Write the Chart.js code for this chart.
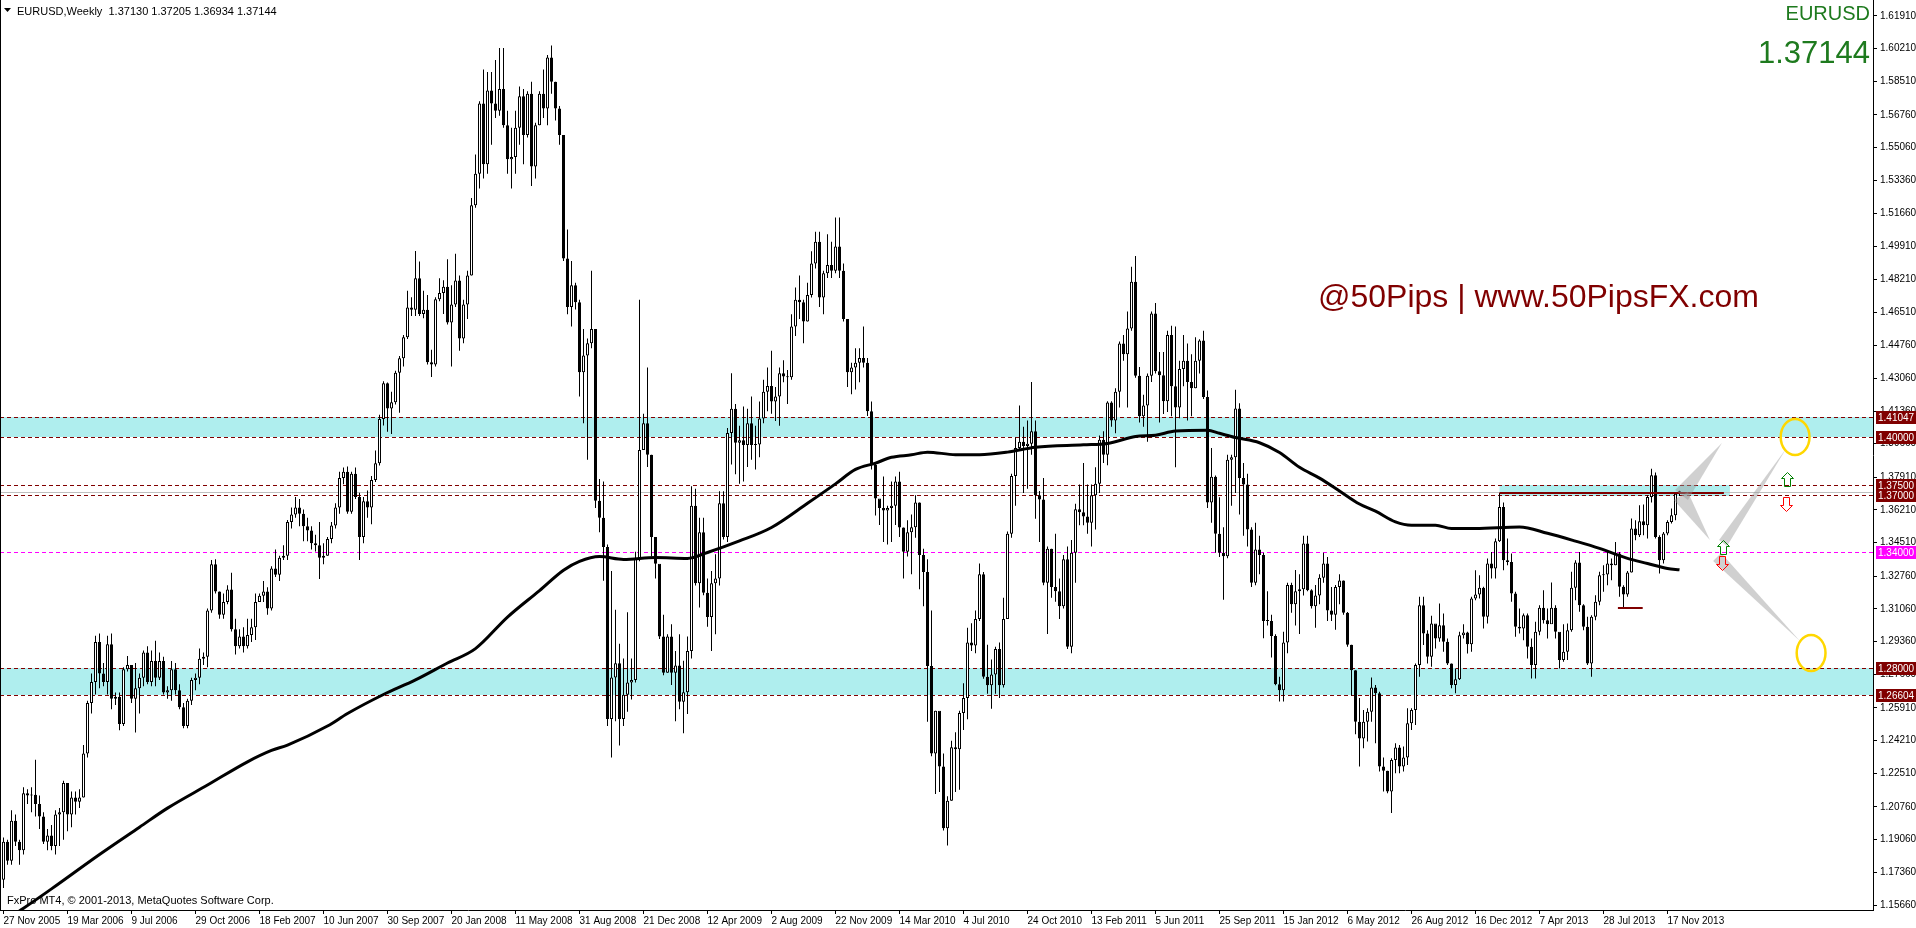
<!DOCTYPE html>
<html>
<head>
<meta charset="utf-8">
<title>EURUSD Weekly</title>
<script src="https://cdn.jsdelivr.net/npm/chart.js"></script>
<style>
  html, body { margin: 0; padding: 0; background: #fff; }
  #wrap { position: relative; width: 1916px; height: 928px; overflow: hidden; }
</style>
</head>
<body>
<div id="wrap"><canvas id="chart" width="1916" height="928"></canvas></div>
<script>
// Weekly EURUSD candles (bar 0 = week of 27 Nov 2005)
const barOpen = [
  1.1698,1.1895,1.1796,1.2004,1.1895,1.1851,1.2147,1.2136,1.2140,1.2092,
  1.2026,1.1895,1.1928,1.1873,1.2037,1.2048,1.2201,1.2037,1.2125,1.2103,
  1.2125,1.2354,1.2617,1.2726,1.2934,1.2770,1.2726,1.2923,1.2639,1.2650,
  1.2508,1.2792,1.2814,1.2639,1.2693,1.2748,1.2880,1.2726,1.2836,1.2748,
  1.2836,1.2672,1.2683,1.2792,1.2683,1.2595,1.2497,1.2628,1.2737,1.2748,
  1.2847,1.2858,1.3098,1.3339,1.3197,1.3076,1.3142,1.3208,1.3000,1.2912,
  1.2963,1.2912,1.2971,1.3011,1.3142,1.3175,1.3197,1.3109,1.3317,1.3284,
  1.3372,1.3383,1.3558,1.3597,1.3634,1.3602,1.3536,1.3514,1.3448,1.3437,
  1.3372,1.3383,1.3470,1.3540,1.3634,1.3788,1.3820,1.3612,1.3809,1.3689,
  1.3481,1.3667,1.3634,1.3777,1.3864,1.4094,1.4280,1.4149,1.4181,1.4335,
  1.4411,1.4520,1.4674,1.4663,1.4827,1.4641,1.4663,1.4389,1.4378,1.4717,
  1.4750,1.4783,1.4597,1.4690,1.4815,1.4513,1.4690,1.4841,1.5206,1.5370,
  1.5736,1.5420,1.5804,1.5736,1.5698,1.5811,1.5622,1.5446,1.5458,1.5609,
  1.5773,1.5572,1.5786,1.5408,1.5622,1.5786,1.5710,1.5975,1.5849,1.5710,
  1.5572,1.4929,1.4677,1.4790,1.4702,1.4337,1.4425,1.4488,1.4563,1.3669,
  1.3580,1.3429,1.2534,1.2749,1.2824,1.2534,1.2660,1.2723,1.2736,1.3366,
  1.3933,1.4072,1.3908,1.3480,1.3341,1.2963,1.2774,1.2963,1.2774,1.2812,
  1.2623,1.2673,1.2887,1.3643,1.3240,1.3505,1.3190,1.3064,1.3240,1.3265,
  1.3656,1.3480,1.4022,1.4148,1.3971,1.3984,1.3959,1.4072,1.3959,1.3962,
  1.4097,1.4236,1.4266,1.4185,1.4211,1.4332,1.4316,1.4311,1.4576,1.4715,
  1.4702,1.4601,1.4740,1.4904,1.5017,1.4727,1.4853,1.4896,1.4866,1.4992,
  1.4866,1.4614,1.4337,1.4362,1.4387,1.4412,1.4387,1.4135,1.3858,1.3681,
  1.3631,1.3618,1.3631,1.3643,1.3769,1.3530,1.3404,1.3505,1.3531,1.3660,
  1.3387,1.3298,1.2809,1.2354,1.2576,1.2287,1.1965,1.2109,1.2387,1.2376,
  1.2565,1.2643,1.2932,1.2916,1.3054,1.3287,1.2754,1.2709,1.2765,1.2898,
  1.2709,1.3054,1.3498,1.3798,1.3943,1.3976,1.3954,1.3965,1.4031,1.3698,
  1.3676,1.3243,1.3420,1.3220,1.3198,1.3120,1.3365,1.2909,1.3398,1.3625,
  1.3609,1.3587,1.3554,1.3698,1.3758,1.3987,1.3909,1.4180,1.4087,1.4236,
  1.4487,1.4431,1.4565,1.4809,1.4320,1.4109,1.4165,1.4320,1.4643,1.4343,
  1.4322,1.4187,1.4531,1.4265,1.4154,1.4354,1.4398,1.4287,1.4254,1.4398,
  1.4503,1.4209,1.3660,1.3794,1.3498,1.3398,1.3380,1.3883,1.3896,1.4149,
  1.3787,1.3754,1.3520,1.3243,1.3416,1.3387,1.3043,1.3043,1.2965,1.2714,
  1.2683,1.2932,1.3231,1.3131,1.3198,1.3209,1.3447,1.3204,1.3120,1.3176,
  1.3269,1.3343,1.3098,1.3076,1.3220,1.3254,1.3087,1.2920,1.2787,1.2520,
  1.2432,1.2520,1.2572,1.2697,1.2667,1.2286,1.2264,1.2157,1.2321,1.2385,
  1.2286,1.2333,1.2512,1.2581,1.2815,1.3126,1.2979,1.2858,1.3031,1.2953,
  1.3022,1.2936,1.2823,1.2711,1.2740,1.2970,1.2984,1.2922,1.3161,1.3182,
  1.3216,1.3066,1.3343,1.3317,1.3459,1.3637,1.3360,1.3351,1.3187,1.3014,
  1.3005,1.3074,1.2910,1.2815,1.2988,1.3112,1.3048,1.3026,1.3112,1.2988,
  1.2841,1.2884,1.2996,1.3216,1.3348,1.3126,1.3014,1.2823,1.3066,1.3144,
  1.3282,1.3286,1.3343,1.3334,1.3395,1.3222,1.3182,1.3296,1.3525,1.3490,
  1.3563,1.3542,1.3689,1.3802,1.3481,1.3360,1.3499,1.3559,1.3594,1.37130
];
const barHigh = [
  1.1917,1.1906,1.2059,1.2037,1.1906,1.2179,1.2168,1.2179,1.2322,1.2136,
  1.2048,1.1961,1.1982,1.2059,1.2070,1.2212,1.2201,1.2157,1.2157,1.2168,
  1.2398,1.2628,1.2770,1.2967,1.2978,1.2825,1.2967,1.2978,1.2672,1.2672,
  1.2803,1.2862,1.2814,1.2825,1.2770,1.2890,1.2912,1.2890,1.2941,1.2880,
  1.2858,1.2704,1.2836,1.2825,1.2715,1.2617,1.2639,1.2748,1.2770,1.2901,
  1.2880,1.3109,1.3361,1.3365,1.3197,1.3186,1.3230,1.3295,1.3055,1.3000,
  1.3011,1.3055,1.3055,1.3186,1.3186,1.3251,1.3219,1.3328,1.3416,1.3383,
  1.3437,1.3569,1.3634,1.3689,1.3678,1.3623,1.3580,1.3536,1.3492,1.3558,
  1.3448,1.3481,1.3558,1.3656,1.3820,1.3842,1.3847,1.3820,1.3842,1.3711,
  1.3689,1.3722,1.3798,1.3930,1.4116,1.4291,1.4284,1.4236,1.4345,1.4422,
  1.4531,1.4761,1.4728,1.4969,1.4914,1.4761,1.4739,1.4455,1.4728,1.4827,
  1.4816,1.4925,1.4790,1.4954,1.4841,1.4715,1.4866,1.5244,1.5471,1.5748,
  1.5912,1.5899,1.5899,1.5962,1.6025,1.6025,1.5698,1.5609,1.5698,1.5824,
  1.5811,1.5799,1.5849,1.5635,1.5799,1.5912,1.5988,1.6038,1.5849,1.5723,
  1.5572,1.5080,1.4916,1.4803,1.4715,1.4563,1.4513,1.4866,1.4563,1.3782,
  1.3769,1.3442,1.3303,1.3102,1.2925,1.2849,1.3089,1.2849,1.3404,1.4715,
  1.4122,1.4362,1.3908,1.3480,1.3328,1.3076,1.2975,1.3026,1.2887,1.2975,
  1.2837,1.2963,1.3744,1.3732,1.3580,1.3580,1.3265,1.3303,1.3391,1.3719,
  1.3719,1.4047,1.4332,1.4173,1.4059,1.4160,1.4148,1.4211,1.4059,1.4185,
  1.4299,1.4362,1.4450,1.4261,1.4362,1.4400,1.4349,1.4639,1.4778,1.4841,
  1.4715,1.4803,1.4967,1.5068,1.5068,1.4866,1.5055,1.5017,1.5143,1.5143,
  1.4904,1.4614,1.4387,1.4463,1.4463,1.4576,1.4412,1.4185,1.3870,1.3669,
  1.3795,1.3643,1.3769,1.3795,1.3820,1.3530,1.3568,1.3598,1.3698,1.3660,
  1.3420,1.3365,1.3098,1.2576,1.2565,1.2354,1.2132,1.2420,1.2465,1.2576,
  1.2720,1.3009,1.3032,1.3098,1.3343,1.3298,1.2920,1.2843,1.2909,1.2932,
  1.3165,1.3509,1.3809,1.3998,1.4165,1.4054,1.4087,1.4287,1.4087,1.3720,
  1.3787,1.3431,1.3420,1.3498,1.3265,1.3387,1.3431,1.3465,1.3654,1.3754,
  1.3865,1.3754,1.3754,1.3843,1.4009,1.4031,1.4187,1.4187,1.4254,1.4498,
  1.4531,1.4654,1.4887,1.4942,1.4365,1.4220,1.4331,1.4654,1.4698,1.4443,
  1.4443,1.4554,1.4580,1.4576,1.4398,1.4531,1.4487,1.4431,1.4520,1.4509,
  1.4554,1.4243,1.3943,1.3800,1.3687,1.3531,1.3909,1.3909,1.4247,1.4176,
  1.3865,1.3809,1.3531,1.3554,1.3487,1.3398,1.3198,1.3076,1.2975,1.2754,
  1.2987,1.3243,1.3243,1.3309,1.3287,1.3487,1.3487,1.3209,1.3231,1.3287,
  1.3398,1.3376,1.3220,1.3231,1.3287,1.3254,1.3090,1.2920,1.2787,1.2643,
  1.2581,1.2589,1.2749,1.2711,1.2676,1.2333,1.2264,1.2330,1.2408,1.2399,
  1.2390,1.2589,1.2589,1.2823,1.3170,1.3170,1.2996,1.3071,1.3022,1.3135,
  1.3083,1.2953,1.2823,1.2797,1.2988,1.3026,1.2988,1.3170,1.3308,1.3282,
  1.3222,1.3369,1.3403,1.3473,1.3710,1.3660,1.3473,1.3395,1.3196,1.3109,
  1.3083,1.3083,1.2953,1.3040,1.3126,1.3204,1.3109,1.3244,1.3126,1.2974,
  1.3026,1.3031,1.3300,1.3360,1.3403,1.3130,1.3066,1.3074,1.3178,1.3300,
  1.3334,1.3403,1.3369,1.3455,1.3403,1.3230,1.3303,1.3577,1.3568,1.3646,
  1.3649,1.3698,1.3836,1.3816,1.3490,1.3507,1.3568,1.3629,1.3715,1.37205
];
const barLow = [
  1.1654,1.1775,1.1775,1.1873,1.1775,1.1829,1.2092,1.2048,1.2026,1.1961,
  1.1884,1.1851,1.1851,1.1829,1.1873,1.1906,1.1950,1.1971,1.2037,1.2070,
  1.2125,1.2333,1.2562,1.2661,1.2693,1.2704,1.2661,1.2584,1.2606,1.2475,
  1.2497,1.2781,1.2617,1.2464,1.2562,1.2704,1.2715,1.2704,1.2704,1.2737,
  1.2661,1.2639,1.2628,1.2661,1.2584,1.2486,1.2486,1.2606,1.2683,1.2715,
  1.2814,1.2803,1.3087,1.3186,1.3055,1.3055,1.3131,1.2989,1.2869,1.2901,
  1.2880,1.2901,1.2934,1.2945,1.3142,1.3142,1.3076,1.3098,1.3273,1.3251,
  1.3361,1.3361,1.3525,1.3580,1.3536,1.3459,1.3459,1.3416,1.3405,1.3262,
  1.3339,1.3383,1.3448,1.3525,1.3602,1.3755,1.3602,1.3602,1.3678,1.3361,
  1.3448,1.3580,1.3547,1.3766,1.3853,1.4061,1.4028,1.4017,1.4170,1.4127,
  1.4367,1.4510,1.4630,1.4630,1.4630,1.4619,1.4378,1.4313,1.4367,1.4707,
  1.4641,1.4586,1.4367,1.4677,1.4450,1.4488,1.4614,1.4841,1.5194,1.5294,
  1.5345,1.5370,1.5521,1.5660,1.5672,1.5609,1.5370,1.5294,1.5370,1.5521,
  1.5420,1.5559,1.5307,1.5345,1.5622,1.5660,1.5622,1.5786,1.5647,1.5521,
  1.4916,1.4639,1.4576,1.4664,1.4211,1.4072,1.3883,1.4463,1.3631,1.3505,
  1.3253,1.2497,1.2333,1.2522,1.2396,1.2497,1.2572,1.2635,1.2723,1.3354,
  1.3933,1.3845,1.3379,1.3265,1.2950,1.2761,1.2774,1.2711,1.2522,1.2585,
  1.2459,1.2560,1.2849,1.3228,1.3114,1.3177,1.3013,1.2887,1.2975,1.3228,
  1.3467,1.3454,1.3858,1.3807,1.3757,1.3769,1.3845,1.3883,1.3832,1.3896,
  1.4072,1.4135,1.4122,1.4084,1.4059,1.4286,1.4173,1.4299,1.4526,1.4614,
  1.4488,1.4601,1.4727,1.4878,1.4677,1.4639,1.4828,1.4828,1.4853,1.4828,
  1.4601,1.4261,1.4223,1.4248,1.4286,1.4362,1.4110,1.3832,1.3593,1.3543,
  1.3454,1.3442,1.3454,1.3543,1.3480,1.3265,1.3379,1.3287,1.3476,1.3209,
  1.3120,1.2520,1.2340,1.2143,1.2154,1.1954,1.1876,1.2109,1.2154,1.2165,
  1.2476,1.2532,1.2887,1.2876,1.3043,1.2743,1.2665,1.2587,1.2665,1.2643,
  1.2698,1.3054,1.3476,1.3643,1.3931,1.3709,1.3731,1.3909,1.3576,1.3454,
  1.3230,1.2976,1.3165,1.3143,1.3054,1.3109,1.2898,1.2876,1.3243,1.3542,
  1.3542,1.3498,1.3431,1.3520,1.3709,1.3865,1.3854,1.4054,1.4020,1.4154,
  1.4398,1.4154,1.4554,1.4309,1.4076,1.4054,1.3976,1.4287,1.4331,1.4076,
  1.4120,1.4131,1.4109,1.3843,1.4098,1.4265,1.4087,1.4109,1.4254,1.4331,
  1.4198,1.3631,1.3554,1.3398,1.3376,1.3154,1.3370,1.3643,1.3709,1.3598,
  1.3487,1.3431,1.3220,1.3230,1.3287,1.2954,1.3020,1.2854,1.2709,1.2625,
  1.2625,1.2876,1.3087,1.3020,1.2976,1.3176,1.3198,1.3109,1.3009,1.3131,
  1.3243,1.3043,1.3043,1.2998,1.3131,1.3076,1.2909,1.2654,1.2454,1.2287,
  1.2382,1.2416,1.2520,1.2408,1.2260,1.2157,1.2148,1.2044,1.2252,1.2252,
  1.2260,1.2295,1.2477,1.2503,1.2754,1.2918,1.2823,1.2806,1.2901,1.2936,
  1.2884,1.2815,1.2693,1.2667,1.2737,1.2953,1.2875,1.2884,1.3152,1.3161,
  1.3005,1.3031,1.3265,1.3265,1.3455,1.3308,1.3334,1.3144,1.2962,1.2979,
  1.2944,1.2849,1.2745,1.2745,1.2970,1.3031,1.2953,1.3048,1.2953,1.2797,
  1.2832,1.2841,1.2988,1.3152,1.3092,1.2996,1.2815,1.2754,1.3048,1.3126,
  1.3196,1.3230,1.3256,1.3334,1.3170,1.3109,1.3170,1.3296,1.3464,1.3481,
  1.3490,1.3473,1.3660,1.3473,1.3291,1.3343,1.3490,1.3551,1.3568,1.36934
];
const barClose = [
  1.1895,1.1796,1.2004,1.1895,1.1851,1.2147,1.2136,1.2140,1.2092,1.2026,
  1.1895,1.1928,1.1873,1.2037,1.2048,1.2201,1.2037,1.2125,1.2103,1.2125,
  1.2354,1.2617,1.2726,1.2934,1.2770,1.2726,1.2923,1.2639,1.2650,1.2508,
  1.2792,1.2814,1.2639,1.2693,1.2748,1.2880,1.2726,1.2836,1.2748,1.2836,
  1.2672,1.2683,1.2792,1.2683,1.2595,1.2497,1.2628,1.2737,1.2748,1.2847,
  1.2858,1.3098,1.3339,1.3197,1.3076,1.3142,1.3208,1.3000,1.2912,1.2963,
  1.2912,1.2971,1.3011,1.3142,1.3175,1.3197,1.3109,1.3317,1.3284,1.3372,
  1.3383,1.3558,1.3597,1.3634,1.3602,1.3536,1.3514,1.3448,1.3437,1.3372,
  1.3383,1.3470,1.3540,1.3634,1.3788,1.3820,1.3612,1.3809,1.3689,1.3481,
  1.3667,1.3634,1.3777,1.3864,1.4094,1.4280,1.4149,1.4181,1.4335,1.4411,
  1.4520,1.4674,1.4663,1.4827,1.4641,1.4663,1.4389,1.4378,1.4717,1.4750,
  1.4783,1.4597,1.4690,1.4815,1.4513,1.4690,1.4841,1.5206,1.5370,1.5736,
  1.5420,1.5804,1.5736,1.5698,1.5811,1.5622,1.5446,1.5458,1.5609,1.5773,
  1.5572,1.5786,1.5408,1.5622,1.5786,1.5710,1.5975,1.5849,1.5710,1.5572,
  1.4929,1.4677,1.4790,1.4702,1.4337,1.4425,1.4488,1.4563,1.3669,1.3580,
  1.3429,1.2534,1.2749,1.2824,1.2534,1.2660,1.2723,1.2736,1.3366,1.3933,
  1.4072,1.3908,1.3480,1.3341,1.2963,1.2774,1.2963,1.2774,1.2812,1.2623,
  1.2673,1.2887,1.3643,1.3240,1.3505,1.3190,1.3064,1.3240,1.3265,1.3656,
  1.3480,1.4022,1.4148,1.3971,1.3984,1.3959,1.4072,1.3959,1.3962,1.4097,
  1.4236,1.4266,1.4185,1.4211,1.4332,1.4316,1.4311,1.4576,1.4715,1.4702,
  1.4601,1.4740,1.4904,1.5017,1.4727,1.4853,1.4896,1.4866,1.4992,1.4866,
  1.4614,1.4337,1.4362,1.4387,1.4412,1.4387,1.4135,1.3858,1.3681,1.3631,
  1.3618,1.3631,1.3643,1.3769,1.3530,1.3404,1.3505,1.3531,1.3660,1.3387,
  1.3298,1.2809,1.2354,1.2576,1.2287,1.1965,1.2109,1.2387,1.2376,1.2565,
  1.2643,1.2932,1.2916,1.3054,1.3287,1.2754,1.2709,1.2765,1.2898,1.2709,
  1.3054,1.3498,1.3798,1.3943,1.3976,1.3954,1.3965,1.4031,1.3698,1.3676,
  1.3243,1.3420,1.3220,1.3198,1.3120,1.3365,1.2909,1.3398,1.3625,1.3609,
  1.3587,1.3554,1.3698,1.3758,1.3987,1.3909,1.4180,1.4087,1.4236,1.4487,
  1.4431,1.4565,1.4809,1.4320,1.4109,1.4165,1.4320,1.4643,1.4343,1.4322,
  1.4187,1.4531,1.4265,1.4154,1.4354,1.4398,1.4287,1.4254,1.4398,1.4503,
  1.4209,1.3660,1.3794,1.3498,1.3398,1.3380,1.3883,1.3896,1.4149,1.3787,
  1.3754,1.3520,1.3243,1.3416,1.3387,1.3043,1.3043,1.2965,1.2714,1.2683,
  1.2932,1.3231,1.3131,1.3198,1.3209,1.3447,1.3204,1.3120,1.3176,1.3269,
  1.3343,1.3098,1.3076,1.3220,1.3254,1.3087,1.2920,1.2787,1.2520,1.2432,
  1.2520,1.2572,1.2697,1.2667,1.2286,1.2264,1.2157,1.2321,1.2385,1.2286,
  1.2333,1.2512,1.2581,1.2815,1.3126,1.2979,1.2858,1.3031,1.2953,1.3022,
  1.2936,1.2823,1.2711,1.2740,1.2970,1.2984,1.2922,1.3161,1.3182,1.3216,
  1.3066,1.3343,1.3317,1.3459,1.3637,1.3360,1.3351,1.3187,1.3014,1.3005,
  1.3074,1.2910,1.2815,1.2988,1.3112,1.3048,1.3026,1.3112,1.2988,1.2841,
  1.2884,1.2996,1.3216,1.3348,1.3126,1.3014,1.2823,1.3066,1.3144,1.3282,
  1.3286,1.3343,1.3334,1.3395,1.3222,1.3182,1.3296,1.3525,1.3490,1.3563,
  1.3542,1.3689,1.3802,1.3481,1.3360,1.3499,1.3559,1.3594,1.3706,1.37144
];

// moving average (thick black line), read at these bars
const maBars = [0,5,12,24,34,41,51,61,67,71,81,86,95,103,111,118,126,134,140,144,
  149,155,163,171,176,184,192,201,208,213,218,222,227,231,238,244,251,258,270,276,
  283,288,293,301,304,308,314,319,324,329,334,339,343,348,352,358,362,368,379,386,
  393,399,406,411,416,419];
const maValues = [1.1480,1.1549,1.1650,1.1829,1.1971,1.2070,1.2190,1.2311,1.2370,1.2398,
  1.2497,1.2562,1.2661,1.2737,1.2825,1.2900,1.3064,1.3202,1.3308,1.3354,
  1.3379,1.3364,1.3374,1.3369,1.3400,1.3460,1.3530,1.3656,1.3757,1.3832,
  1.3865,1.3895,1.3908,1.3922,1.3909,1.3909,1.3922,1.3947,1.3960,1.3967,
  1.4003,1.4010,1.4032,1.4036,1.4020,1.3998,1.3971,1.3920,1.3843,1.3787,
  1.3720,1.3652,1.3615,1.3559,1.3542,1.3542,1.3525,1.3525,1.3533,1.3500,
  1.3459,1.3421,1.3369,1.3343,1.3317,1.3310];

// axes
const xTickBars = [0,16,32,48,64,80,96,112,128,144,160,176,192,208,224,240,256,272,288,304,320,336,352,368,384,400,416];
const xTickLabels = ["27 Nov 2005","19 Mar 2006","9 Jul 2006","29 Oct 2006","18 Feb 2007","10 Jun 2007",
  "30 Sep 2007","20 Jan 2008","11 May 2008","31 Aug 2008","21 Dec 2008","12 Apr 2009","2 Aug 2009",
  "22 Nov 2009","14 Mar 2010","4 Jul 2010","24 Oct 2010","13 Feb 2011","5 Jun 2011","25 Sep 2011",
  "15 Jan 2012","6 May 2012","26 Aug 2012","16 Dec 2012","7 Apr 2013","28 Jul 2013","17 Nov 2013"];
const yTickValues = [1.61910,1.60210,1.58510,1.56760,1.55060,1.53360,1.51660,1.49910,1.48210,1.46510,
  1.44760,1.43060,1.41360,1.39660,1.37910,1.36210,1.34510,1.32760,1.31060,1.29360,
  1.27660,1.25910,1.24210,1.22510,1.20760,1.19060,1.17360,1.15660];

// drawn objects
const zoneLow = [1.40000, 1.26604];
const zoneHigh = [1.41047, 1.28000];
const levelValues = [1.41047, 1.40000, 1.37500, 1.37000, 1.34000, 1.28000, 1.26604];
const levelColors = ['#800000','#800000','#800000','#800000','#ff00ff','#800000','#800000'];
const bidPrice = 1.37144;
const boxBars = [374, 431.6];
const boxPrices = [1.3695, 1.3750];
const trendBars = [[374, 430.1], [403.6, 409.8]];
const trendPrices = [1.3710, 1.3109];
const wedgeBars = [[417.9, 421.1, 429.6], [417.6, 421.1, 426.6], [428.9, 430.9, 445.6], [429.4, 427.4, 449.1]];
const wedgePrices = [[1.3725, 1.3673, 1.3970], [1.3673, 1.3715, 1.3465], [1.3465, 1.3434, 1.3938], [1.3397, 1.3356, 1.2939]];
const ellipseBars = [447.9, 451.9];
const ellipsePrices = [1.4001, 1.2877];
const ellipseRadiusBars = 3.6;
const ellipseRadiusPrice = 0.0094;
const arrowBars = [445.9, 445.6, 429.9, 429.6];
const arrowPrices = [1.3782, 1.3652, 1.3428, 1.3345];
const arrowUp = [true, false, true, false];

const FONT = "'Liberation Sans', Arial, sans-serif";

function drawArrow(ctx, cx, cy, up, color) {
  const s = up ? 1 : -1;
  ctx.beginPath();
  ctx.moveTo(cx, cy - 7 * s);
  ctx.lineTo(cx + 6, cy - 1 * s);
  ctx.lineTo(cx + 3, cy - 1 * s);
  ctx.lineTo(cx + 3, cy + 7 * s);
  ctx.lineTo(cx - 3, cy + 7 * s);
  ctx.lineTo(cx - 3, cy - 1 * s);
  ctx.lineTo(cx - 6, cy - 1 * s);
  ctx.closePath();
  ctx.strokeStyle = color;
  ctx.lineWidth = 1;
  ctx.stroke();
}

const mt4Objects = {
  id: 'mt4Objects',
  beforeDatasetsDraw(chart) {
    const { ctx, chartArea: a, scales: { x, y } } = chart;
    ctx.save();
    ctx.beginPath();
    ctx.rect(a.left, a.top, a.right - a.left, a.bottom - a.top);
    ctx.clip();
    // support / resistance zones
    ctx.fillStyle = '#afeeee';
    for (let k = 0; k < zoneLow.length; k++) {
      const y1 = Math.round(y.getPixelForValue(zoneHigh[k]));
      const y2 = Math.round(y.getPixelForValue(zoneLow[k]));
      ctx.fillRect(a.left, y1, a.right - a.left, y2 - y1);
    }
    const bx1 = x.getPixelForValue(boxBars[0]), bx2 = x.getPixelForValue(boxBars[1]);
    const by1 = Math.round(y.getPixelForValue(boxPrices[1])), by2 = Math.round(y.getPixelForValue(boxPrices[0]));
    ctx.fillRect(bx1, by1, bx2 - bx1, by2 - by1);
    // bid line
    ctx.strokeStyle = '#c0c0c0';
    ctx.lineWidth = 1;
    const yb = Math.round(y.getPixelForValue(bidPrice)) + 0.5;
    ctx.beginPath(); ctx.moveTo(a.left, yb); ctx.lineTo(a.right, yb); ctx.stroke();
    // dashed horizontal levels
    ctx.setLineDash([4, 3]);
    levelValues.forEach((v, k) => {
      const yy = Math.round(y.getPixelForValue(v)) + 0.5;
      ctx.strokeStyle = levelColors[k];
      ctx.beginPath(); ctx.moveTo(a.left, yy); ctx.lineTo(a.right, yy); ctx.stroke();
    });
    ctx.restore();
  },
  afterDatasetsDraw(chart) {
    const { ctx, chartArea: a, scales: { x, y } } = chart;
    ctx.save();
    ctx.beginPath();
    ctx.rect(a.left, a.top, a.right - a.left, a.bottom - a.top);
    ctx.clip();
    // horizontal trend lines
    ctx.strokeStyle = '#800000';
    ctx.lineWidth = 2;
    trendBars.forEach((tb, k) => {
      const yy = Math.round(y.getPixelForValue(trendPrices[k]));
      ctx.beginPath();
      ctx.moveTo(x.getPixelForValue(tb[0]), yy);
      ctx.lineTo(x.getPixelForValue(tb[1]), yy);
      ctx.stroke();
    });
    // grey wedges
    ctx.fillStyle = 'rgba(150,150,150,0.45)';
    wedgeBars.forEach((wb, k) => {
      ctx.beginPath();
      for (let j = 0; j < 3; j++) {
        const px = x.getPixelForValue(wb[j]), py = y.getPixelForValue(wedgePrices[k][j]);
        if (j === 0) ctx.moveTo(px, py); else ctx.lineTo(px, py);
      }
      ctx.closePath();
      ctx.fill();
    });
    // target ellipses
    ctx.strokeStyle = '#ffd700';
    ctx.lineWidth = 2.5;
    ellipseBars.forEach((eb, k) => {
      const cx = x.getPixelForValue(eb), cy = y.getPixelForValue(ellipsePrices[k]);
      const rx = Math.abs(x.getPixelForValue(eb + ellipseRadiusBars) - cx);
      const ry = Math.abs(y.getPixelForValue(ellipsePrices[k] + ellipseRadiusPrice) - cy);
      ctx.beginPath();
      ctx.ellipse(cx, cy, rx, ry, 0, 0, Math.PI * 2);
      ctx.stroke();
    });
    // up / down arrows
    arrowBars.forEach((ab, k) => {
      const cx = Math.round(x.getPixelForValue(ab)) + 0.5;
      const cy = Math.round(y.getPixelForValue(arrowPrices[k])) + 0.5;
      drawArrow(ctx, cx, cy, arrowUp[k], arrowUp[k] ? '#008000' : '#ff0000');
    });
    ctx.restore();
  },
  afterDraw(chart) {
    const { ctx, chartArea: a, scales: { y } } = chart;
    ctx.save();
    // left frame line
    ctx.strokeStyle = '#000';
    ctx.lineWidth = 1;
    ctx.beginPath(); ctx.moveTo(0.5, a.top); ctx.lineTo(0.5, a.bottom); ctx.stroke();
    // price labels of the levels on the right axis
    ctx.font = '10px ' + FONT;
    ctx.textBaseline = 'middle';
    levelValues.forEach((v, k) => {
      const yy = Math.round(y.getPixelForValue(v));
      ctx.fillStyle = levelColors[k];
      ctx.fillRect(a.right + 3, yy - 6, 40, 13);
      ctx.fillStyle = '#fff';
      ctx.fillText(v.toFixed(5), a.right + 5, yy + 1);
    });
    // header
    const last = barClose.length - 1;
    ctx.font = '11px ' + FONT;
    ctx.fillStyle = '#000';
    ctx.beginPath(); ctx.moveTo(4, 8); ctx.lineTo(11, 8); ctx.lineTo(7.5, 12); ctx.closePath(); ctx.fill();
    ctx.textBaseline = 'alphabetic';
    ctx.fillText('EURUSD,Weekly  ' + [barOpen[last], barHigh[last], barLow[last], barClose[last]].map(v => v.toFixed(5)).join(' '), 17, 15);
    ctx.fillText('FxPro MT4, \u00a9 2001-2013, MetaQuotes Software Corp.', 7, 904);
    // symbol and last price
    ctx.fillStyle = '#1e7a1e';
    ctx.textAlign = 'right';
    ctx.font = '20px ' + FONT;
    ctx.fillText('EURUSD', 1870, 20);
    ctx.font = '31px ' + FONT;
    ctx.fillText(barClose[last].toFixed(5), 1870, 63);
    // watermark
    ctx.textAlign = 'left';
    ctx.fillStyle = '#800000';
    ctx.font = '32px ' + FONT;
    ctx.fillText('@50Pips | www.50PipsFX.com', 1318, 307);
    ctx.restore();
  }
};

const candleWicks = barHigh.map((h, i) => ({ x: i, y: [barLow[i], h] }));
const candleBodies = barOpen.map((o, i) => ({ x: i, y: [o, barClose[i]] }));
const bodyFill = barOpen.map((o, i) => (barClose[i] >= o ? '#ffffff' : '#000000'));

new Chart(document.getElementById('chart'), {
  type: 'line',
  data: {
    datasets: [
      {
        type: 'line',
        data: maBars.map((b, k) => ({ x: b, y: maValues[k] })),
        borderColor: '#000',
        borderWidth: 3,
        pointRadius: 0,
        cubicInterpolationMode: 'monotone',
        order: 1
      },
      {
        type: 'bar',
        data: candleBodies,
        backgroundColor: bodyFill,
        borderColor: '#000',
        borderWidth: 1,
        borderSkipped: false,
        barThickness: 3,
        minBarLength: 1,
        grouped: false,
        inflateAmount: 0,
        order: 2
      },
      {
        type: 'bar',
        data: candleWicks,
        backgroundColor: '#000',
        borderWidth: 0,
        barThickness: 1,
        grouped: false,
        inflateAmount: 0,
        order: 3
      }
    ]
  },
  options: {
    responsive: false,
    animation: false,
    events: [],
    layout: { padding: 0 },
    plugins: { legend: { display: false }, tooltip: { enabled: false } },
    scales: {
      x: {
        type: 'linear',
        min: -0.875,
        max: 467.375,
        offset: false,
        afterBuildTicks: s => { s.ticks = xTickBars.map(v => ({ value: v })); },
        afterFit: s => { s.height = 18; s.paddingLeft = 0; s.paddingRight = 0; },
        grid: { drawOnChartArea: false, drawTicks: true, tickLength: 4, color: '#000', offset: false },
        border: { display: true, color: '#000', width: 1 },
        ticks: {
          autoSkip: false, maxRotation: 0, minRotation: 0, align: 'start', padding: 1,
          color: '#000', font: { family: FONT, size: 10 },
          callback: (v, i) => xTickLabels[i]
        }
      },
      y: {
        type: 'linear',
        position: 'right',
        min: 1.15400,
        max: 1.62742,
        afterBuildTicks: s => { s.ticks = yTickValues.map(v => ({ value: v })); },
        afterFit: s => { s.width = 43; s.paddingTop = 0; s.paddingBottom = 0; },
        grid: { drawOnChartArea: false, drawTicks: true, tickLength: 4, color: '#000' },
        border: { display: true, color: '#000', width: 1 },
        ticks: {
          autoSkip: false, padding: 3, color: '#000', font: { family: FONT, size: 10 },
          callback: v => Number(v).toFixed(5)
        }
      }
    }
  },
  plugins: [mt4Objects]
});
</script>
</body>
</html>
